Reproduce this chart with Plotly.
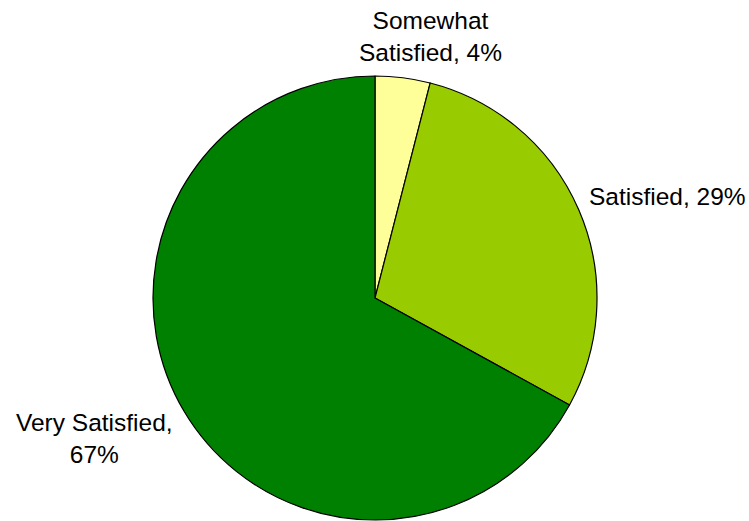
import plotly.graph_objects as go

categories = ["Somewhat Satisfied", "Satisfied", "Very Satisfied"]
values = [4, 29, 67]
colors = ["#FFFF99", "#99CC00", "#008000"]
label_text = ["Somewhat<br>Satisfied, 4%", "Satisfied, 29%", "Very Satisfied,<br>67%"]

W, H = 749, 521
cx, cy, r = 375, 298, 222

fig = go.Figure(go.Pie(
    labels=categories,
    values=values,
    sort=False,
    direction="clockwise",
    rotation=0,
    marker=dict(colors=colors, line=dict(color="black", width=1.2)),
    textinfo="none",
    hoverinfo="label+percent",
    showlegend=False,
    domain=dict(x=[(cx - r) / W, (cx + r) / W], y=[1 - (cy + r) / H, 1 - (cy - r) / H]),
))

# label positions (pixels) -> paper coords
pos = [(430, 37, "center"), (587, 196, "left"), (94, 438, "center")]
for txt, (px, py, anc) in zip(label_text, pos):
    fig.add_annotation(
        x=px / W, y=1 - py / H, xref="paper", yref="paper",
        text=txt, showarrow=False, xanchor=anc, yanchor="middle",
        align="center",
        font=dict(family="Liberation Sans, Arial, sans-serif", size=24.5, color="black"),
    )

fig.update_layout(
    width=W, height=H,
    margin=dict(l=0, r=0, t=0, b=0),
    paper_bgcolor="white",
    plot_bgcolor="white",
)

fig.write_html(
    "out.html",
    config={"displayModeBar": False},
    post_script="document.body.style.margin='0';document.body.style.overflow='hidden';",
)
